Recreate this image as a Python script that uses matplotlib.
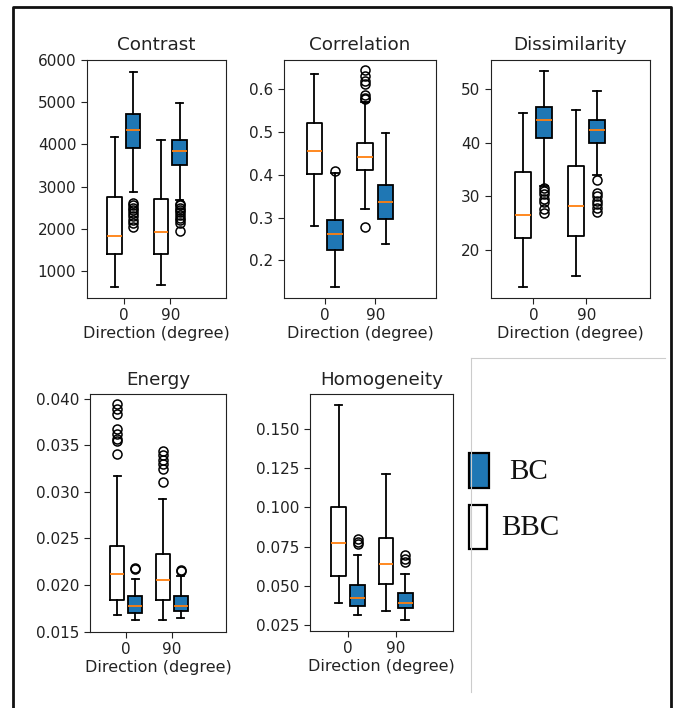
import matplotlib
matplotlib.use("Agg")
import matplotlib.pyplot as plt
from matplotlib.patches import Rectangle
from matplotlib.lines import Line2D
from matplotlib.ticker import FormatStrFormatter

# ---------------- data ----------------
directions = ["0", "90"]
metrics = ["Contrast", "Correlation", "Dissimilarity", "Energy", "Homogeneity"]
groups = ["BC", "BBC"]

# each row: [whisker_low, q1, median, q3, whisker_high] for direction 0 and 90
contrast_bbc = [[628, 1411, 1838, 2747, 4170], [668, 1411, 1917, 2715, 4115]]
contrast_bc = [[2874, 3925, 4352, 4723, 5727], [2690, 3514, 3854, 4115, 4992]]
contrast_bbc_fliers = [[], []]
contrast_bc_fliers = [[2605, 2560, 2500, 2450, 2380, 2300, 2220, 2130, 2050],
                      [2600, 2560, 2500, 2440, 2390, 2330, 2270, 2200, 2150, 1940]]

correlation_bbc = [[0.280, 0.401, 0.456, 0.520, 0.636], [0.321, 0.411, 0.441, 0.475, 0.571]]
correlation_bc = [[0.138, 0.223, 0.261, 0.295, 0.403], [0.238, 0.296, 0.337, 0.377, 0.497]]
correlation_bbc_fliers = [[], [0.645, 0.630, 0.618, 0.612, 0.587, 0.580, 0.576, 0.277]]
correlation_bc_fliers = [[0.409], []]

dissimilarity_bbc = [[13.2, 22.2, 26.5, 34.6, 45.5], [15.2, 22.6, 28.3, 35.6, 46.1]]
dissimilarity_bc = [[32.0, 40.9, 44.3, 46.6, 53.3], [34.0, 40.0, 42.4, 44.2, 49.7]]
dissimilarity_bbc_fliers = [[], []]
dissimilarity_bc_fliers = [[31.6, 31.0, 30.4, 29.5, 29.0, 27.7, 26.9],
                           [33.0, 30.6, 30.0, 29.2, 28.6, 27.9, 27.2]]

energy_bbc = [[0.01678, 0.01845, 0.02116, 0.02422, 0.03167], [0.01621, 0.01838, 0.02052, 0.02337, 0.02925]]
energy_bc = [[0.01621, 0.01703, 0.01778, 0.01881, 0.02070], [0.01642, 0.01724, 0.01778, 0.01881, 0.02098]]
energy_bbc_fliers = [[0.0394, 0.0389, 0.0384, 0.0367, 0.0362, 0.0357, 0.0354, 0.0341],
                     [0.0344, 0.0339, 0.0334, 0.0330, 0.0325, 0.0311]]
energy_bc_fliers = [[0.02184, 0.02170], [0.02166, 0.02150]]

homogeneity_bbc = [[0.0390, 0.0565, 0.0771, 0.1005, 0.1649], [0.0339, 0.0514, 0.0637, 0.0803, 0.1211]]
homogeneity_bc = [[0.0314, 0.0371, 0.0424, 0.0505, 0.0696], [0.0280, 0.0361, 0.0392, 0.0452, 0.0575]]
homogeneity_bbc_fliers = [[], []]
homogeneity_bc_fliers = [[0.0798, 0.0781, 0.0764], [0.0696, 0.0671, 0.0650]]

y_ticks = {
    "Contrast": [1000, 2000, 3000, 4000, 5000, 6000],
    "Correlation": [0.2, 0.3, 0.4, 0.5, 0.6],
    "Dissimilarity": [20, 30, 40, 50],
    "Energy": [0.015, 0.020, 0.025, 0.030, 0.035, 0.040],
    "Homogeneity": [0.025, 0.050, 0.075, 0.100, 0.125, 0.150],
}
y_limits = {
    "Contrast": (365, 5990),
    "Correlation": (0.112, 0.668),
    "Dissimilarity": (11.1, 55.4),
    "Energy": (0.0150, 0.04046),
    "Homogeneity": (0.0212, 0.1720),
}
y_formats = {"Contrast": "%d", "Correlation": "%.1f", "Dissimilarity": "%d",
             "Energy": "%.3f", "Homogeneity": "%.3f"}

data = {
    "Contrast": (contrast_bbc, contrast_bbc_fliers, contrast_bc, contrast_bc_fliers),
    "Correlation": (correlation_bbc, correlation_bbc_fliers, correlation_bc, correlation_bc_fliers),
    "Dissimilarity": (dissimilarity_bbc, dissimilarity_bbc_fliers, dissimilarity_bc, dissimilarity_bc_fliers),
    "Energy": (energy_bbc, energy_bbc_fliers, energy_bc, energy_bc_fliers),
    "Homogeneity": (homogeneity_bbc, homogeneity_bbc_fliers, homogeneity_bc, homogeneity_bc_fliers),
}

# ---------------- layout ----------------
W, H = 677, 708
fig = plt.figure(figsize=(W / 100, H / 100), dpi=100)
plt.rcParams["font.family"] = ["DejaVu Sans"]

# axes boxes in pixels: left, right, top, bottom
boxes = {
    "Contrast": (86.7, 226, 60, 298),
    "Correlation": (284, 436.3, 60, 298),
    "Dissimilarity": (491, 650, 60, 298),
    "Energy": (90, 226, 394.3, 631.7),
    "Homogeneity": (310, 452.7, 394.3, 631),
}

white_pos = [0, 2]
blue_pos = [0.8, 2.8]
tick_pos = [0.4, 2.4]


def to_stats(rows, fliers):
    out = []
    for r, f in zip(rows, fliers):
        out.append(dict(whislo=r[0], q1=r[1], med=r[2], q3=r[3], whishi=r[4], fliers=f))
    return out


for name in metrics:
    l, r, t, b = boxes[name]
    ax = fig.add_axes([l / W, 1 - b / H, (r - l) / W, (b - t) / H])
    bbc, bbc_f, bc, bc_f = data[name]
    flier = dict(marker="o", markerfacecolor="none", markeredgecolor="black",
                 markersize=6.5, markeredgewidth=1.1)
    ax.bxp(to_stats(bbc, bbc_f), positions=white_pos, widths=0.62,
           patch_artist=False, flierprops=flier,
           boxprops=dict(color="black", linewidth=1.3),
           whiskerprops=dict(color="black", linewidth=1.3),
           capprops=dict(color="black", linewidth=1.3),
           medianprops=dict(color="#ff7f0e", linewidth=1.3))
    ax.bxp(to_stats(bc, bc_f), positions=blue_pos, widths=0.62,
           patch_artist=True, flierprops=flier,
           boxprops=dict(facecolor="#1f77b4", edgecolor="black", linewidth=1.3),
           whiskerprops=dict(color="black", linewidth=1.3),
           capprops=dict(color="black", linewidth=1.3),
           medianprops=dict(color="#ff7f0e", linewidth=1.3))
    ax.set_xlim(-1.2, 4.8)
    ax.set_xticks(tick_pos)
    ax.set_xticklabels(directions)
    ax.set_ylim(*y_limits[name])
    ax.set_yticks(y_ticks[name])
    ax.yaxis.set_major_formatter(FormatStrFormatter(y_formats[name]))
    ax.tick_params(labelsize=11, colors="#222222", length=4)
    ax.set_title(name, fontsize=13.2, color="#222222", pad=7)
    ax.set_xlabel("Direction (degree)", fontsize=11.5, color="#222222", labelpad=2)
    for s in ax.spines.values():
        s.set_color("#222222")

# ---------------- legend (hand-drawn style) ----------------
def fx(x):
    return x / W


def fy(y):
    return 1 - y / H


fig.patches.append(Rectangle((fx(469), fy(488)), fx(489) - fx(469), fy(453) - fy(488),
                             transform=fig.transFigure, facecolor="#1f77b4",
                             edgecolor="black", linewidth=1.6))
fig.patches.append(Rectangle((fx(469), fy(549)), fx(487) - fx(469), fy(505) - fy(549),
                             transform=fig.transFigure, facecolor="white",
                             edgecolor="black", linewidth=1.6))
fig.text(fx(509), fy(472), groups[0], fontsize=21, family="Liberation Serif",
         va="center", ha="left", color="#111111")
fig.text(fx(501), fy(528), groups[1], fontsize=21, family="Liberation Serif",
         va="center", ha="left", color="#111111")

# light gray separators around the legend area
fig.add_artist(Line2D([fx(471), fx(471)], [fy(358), fy(692)], transform=fig.transFigure,
                      color="#cccccc", linewidth=0.8))
fig.add_artist(Line2D([fx(471), fx(665)], [fy(358), fy(358)], transform=fig.transFigure,
                      color="#cccccc", linewidth=0.8))

# outer dark frame (left, top, right)
fig.add_artist(Line2D([fx(13), fx(13), fx(671), fx(671)], [fy(708), fy(7), fy(7), fy(708)],
                      transform=fig.transFigure, color="#111111", linewidth=2.0))

fig.savefig("out.png", dpi=100)
